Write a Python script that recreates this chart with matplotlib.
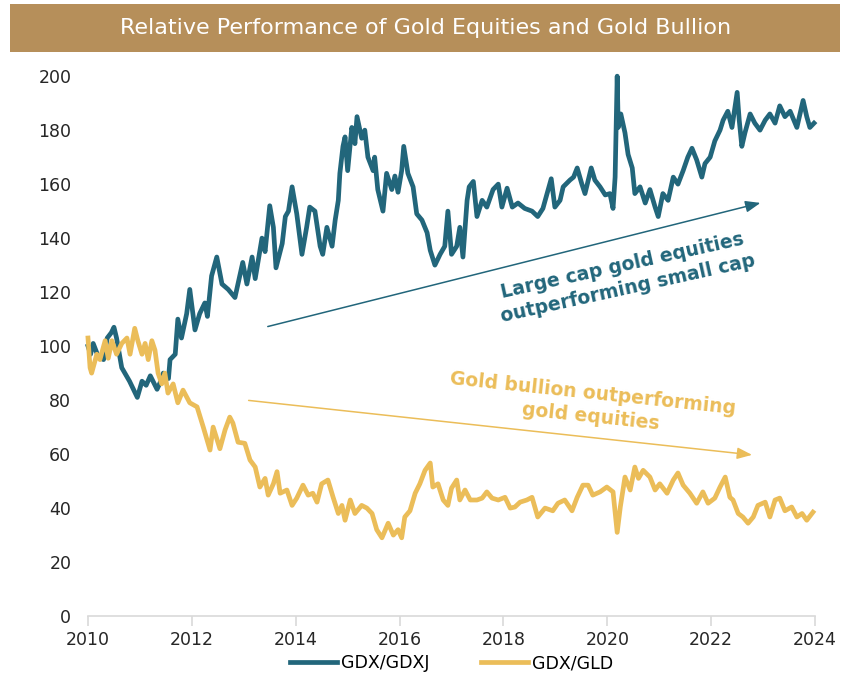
import matplotlib
matplotlib.use("Agg")
import matplotlib.pyplot as plt
from matplotlib.patches import Rectangle

# ---------- data (decimal year, ratio index) ----------
gdxj_dates = [
    2010.00, 2010.05, 2010.10, 2010.20, 2010.30, 2010.37, 2010.45, 2010.50, 2010.55, 2010.65,
    2010.80, 2010.95, 2011.04, 2011.12, 2011.20, 2011.33, 2011.40, 2011.45, 2011.55, 2011.58,
    2011.68, 2011.73, 2011.80, 2011.90, 2011.96, 2012.06, 2012.15, 2012.25, 2012.30, 2012.38,
    2012.48, 2012.58, 2012.70, 2012.83, 2012.98, 2013.06, 2013.16, 2013.22, 2013.35, 2013.41,
    2013.50, 2013.57, 2013.62, 2013.74, 2013.80, 2013.86, 2013.93, 2014.02, 2014.12, 2014.21,
    2014.27, 2014.37, 2014.47, 2014.52, 2014.60, 2014.70, 2014.76, 2014.82, 2014.85, 2014.91,
    2014.95, 2015.00, 2015.08, 2015.14, 2015.18, 2015.27, 2015.33, 2015.39, 2015.49, 2015.52,
    2015.58, 2015.68, 2015.75, 2015.85, 2015.91, 2015.97, 2016.04, 2016.08, 2016.16, 2016.26,
    2016.33, 2016.43, 2016.53, 2016.59, 2016.68, 2016.78, 2016.87, 2016.93, 2017.00, 2017.10,
    2017.16, 2017.22, 2017.30, 2017.34, 2017.42, 2017.49, 2017.59, 2017.68, 2017.80, 2017.90,
    2017.97, 2018.07, 2018.17, 2018.28, 2018.41, 2018.55, 2018.66, 2018.76, 2018.84, 2018.92,
    2018.99, 2019.09, 2019.15, 2019.28, 2019.35, 2019.42, 2019.51, 2019.57, 2019.69, 2019.76,
    2019.86, 2019.96, 2020.05, 2020.11, 2020.15, 2020.19, 2020.21, 2020.26, 2020.34, 2020.40,
    2020.48, 2020.53, 2020.63, 2020.73, 2020.82, 2020.92, 2020.98, 2021.07, 2021.17, 2021.27,
    2021.36, 2021.46, 2021.55, 2021.63, 2021.72, 2021.82, 2021.88, 2021.98, 2022.07, 2022.17,
    2022.23, 2022.32, 2022.40, 2022.50, 2022.54, 2022.59, 2022.65, 2022.75, 2022.84, 2022.94,
    2023.04, 2023.13, 2023.23, 2023.32, 2023.42, 2023.52, 2023.65, 2023.77, 2023.84, 2023.90,
    2023.98,
]
gdxj_vals = [
    100, 97, 101, 96, 95, 103, 105, 107, 103, 92,
    87, 81, 87, 85.5, 89, 84, 87, 90, 88, 95,
    97, 110, 103, 112, 121, 106, 112, 116, 111, 126,
    133, 123, 121, 118, 131, 123, 133, 125, 140, 135,
    152, 144, 129, 138, 148, 150, 159, 149, 134, 144,
    151.5, 150, 137, 134, 144, 137, 146.7, 154, 164, 174,
    177.5, 165, 181, 175, 185, 177, 180, 170, 165, 170,
    158, 150, 164, 158, 163, 157, 165, 174, 164, 159,
    149, 146.7, 142, 135.5, 130, 134, 137, 150, 134, 137,
    144, 133, 154, 159, 161, 148, 154, 151.5, 158, 160,
    151.5, 158.5, 151.5, 153, 151, 150, 148, 151, 156.5, 162,
    151.5, 154, 159, 161.5, 162.6, 166, 160, 156.5, 166, 161.5,
    159, 156, 156.5, 151, 162.6, 200, 181, 186, 179, 171,
    166, 156.5, 159, 153, 158, 151.5, 148, 156.5, 154, 162.6,
    160, 165, 170, 173.3, 169, 162.6, 167.6, 170, 176, 180,
    183.7, 187, 181, 194, 183.7, 174, 179, 186, 182.6, 180,
    183.7, 186, 182.6, 189, 185, 187, 181, 191, 185, 181,
    182.6,
]

gld_dates = [
    2010.00, 2010.04, 2010.07, 2010.17, 2010.23, 2010.33, 2010.39, 2010.46, 2010.55, 2010.65,
    2010.75, 2010.81, 2010.90, 2010.96, 2011.04, 2011.10, 2011.16, 2011.23, 2011.29, 2011.35,
    2011.42, 2011.48, 2011.54, 2011.64, 2011.73, 2011.83, 2011.96, 2012.10, 2012.22, 2012.35,
    2012.41, 2012.54, 2012.64, 2012.73, 2012.79, 2012.89, 2013.02, 2013.12, 2013.22, 2013.31,
    2013.41, 2013.47, 2013.57, 2013.64, 2013.70, 2013.83, 2013.93, 2014.02, 2014.14, 2014.24,
    2014.33, 2014.41, 2014.50, 2014.62, 2014.72, 2014.82, 2014.89, 2014.95, 2015.05, 2015.14,
    2015.27, 2015.37, 2015.47, 2015.56, 2015.66, 2015.78, 2015.88, 2015.97, 2016.04, 2016.10,
    2016.20, 2016.30, 2016.39, 2016.49, 2016.59, 2016.64, 2016.74, 2016.84, 2016.93, 2017.00,
    2017.10, 2017.16, 2017.26, 2017.36, 2017.49, 2017.59, 2017.68, 2017.78, 2017.90, 2018.03,
    2018.13, 2018.22, 2018.32, 2018.45, 2018.55, 2018.66, 2018.80, 2018.95, 2019.05, 2019.18,
    2019.32, 2019.42, 2019.53, 2019.63, 2019.72, 2019.86, 2019.99, 2020.11, 2020.19, 2020.25,
    2020.34, 2020.44, 2020.53, 2020.60, 2020.69, 2020.82, 2020.92, 2021.01, 2021.15, 2021.27,
    2021.36, 2021.46, 2021.59, 2021.72, 2021.84, 2021.94, 2022.07, 2022.17, 2022.27, 2022.36,
    2022.42, 2022.52, 2022.61, 2022.71, 2022.81, 2022.90, 2023.04, 2023.13, 2023.23, 2023.32,
    2023.42, 2023.55, 2023.65, 2023.75, 2023.84, 2023.96,
]
gld_vals = [
    103, 92, 90, 97, 95, 102, 95.5, 102, 97, 101,
    103, 97, 106.6, 102, 97, 101, 95, 102, 98.5, 90,
    86, 90, 82.6, 86, 79, 83.7, 79, 77.5, 70, 61.5,
    70, 62, 69, 73.7, 71.5, 64.4, 64, 57.8, 55.2, 47.8,
    51, 44.8, 49, 53.5, 45.5, 46.7, 41, 43.7, 48.5, 44.8,
    45.5, 42.2, 49, 50.4, 44, 38, 41, 35.5, 43, 38,
    41, 40, 38, 32, 29, 34.4, 30, 32, 29, 36.7,
    39, 45.5, 49, 54, 56.7, 47.8, 49, 43, 41, 47.4,
    50.4, 43, 46.7, 43, 43, 43.7, 46, 43.7, 43, 44,
    40, 40.4, 42.2, 43, 44, 36.7, 40, 39, 41.8, 43,
    39, 44, 48.5, 48.5, 44.8, 46, 47.8, 46, 31, 40.4,
    51.5, 46.7, 55.2, 51, 54, 51.5, 46.7, 49, 45.5, 50.4,
    53, 48.5, 45.5, 41.8, 46, 41.8, 43.7, 47.8, 51.5, 44,
    43, 38, 36.7, 34.4, 36.7, 41, 42.2, 36.7, 43, 43.7,
    39, 40.4, 36.7, 38, 35.5, 38.5,
]

x_ticks = [2010, 2012, 2014, 2016, 2018, 2020, 2022, 2024]
y_ticks = [0, 20, 40, 60, 80, 100, 120, 140, 160, 180, 200]

TITLE = "Relative Performance of Gold Equities and Gold Bullion"
BLUE = "#22667b"
GOLD = "#ebbd59"
BAR = "#b68f5a"
FONT = "DejaVu Sans"

fig = plt.figure(figsize=(8.42, 6.8), dpi=100)
ax = fig.add_axes([0.1045, 0.094, 0.8635, 0.794])

# title banner
fig.patches.append(Rectangle((0.012, 0.924), 0.986, 0.0705, transform=fig.transFigure,
                             facecolor=BAR, edgecolor="none"))
fig.text(0.505, 0.959, TITLE, ha="center", va="center", color="white",
         fontsize=16, family=FONT)

ax.plot(gdxj_dates, gdxj_vals, color=BLUE, lw=3.4, solid_joinstyle="round",
        label="GDX/GDXJ", clip_on=False)
ax.plot(gld_dates, gld_vals, color=GOLD, lw=3.4, solid_joinstyle="round",
        label="GDX/GLD", clip_on=False)

ax.set_xlim(2010, 2024)
ax.set_ylim(0, 200)
ax.set_xticks(x_ticks)
ax.set_yticks(y_ticks)
for s in ["top", "right", "left"]:
    ax.spines[s].set_visible(False)
ax.spines["bottom"].set_color("#d9d9d9")
ax.spines["bottom"].set_linewidth(1.2)
ax.tick_params(axis="y", length=0, pad=12)
ax.tick_params(axis="x", length=7, color="#d9d9d9", width=1.2, pad=4)
for lab in ax.get_xticklabels() + ax.get_yticklabels():
    lab.set_family(FONT)
    lab.set_fontsize(12.5)
    lab.set_color("#262626")

# trend arrows and notes
ax.annotate("", xy=(2023.0, 153.3), xytext=(2013.41, 107),
            arrowprops=dict(arrowstyle="-|>,head_length=0.9,head_width=0.35",
                            color=BLUE, lw=1.1))
ax.annotate("", xy=(2022.84, 59.6), xytext=(2013.04, 80),
            arrowprops=dict(arrowstyle="-|>,head_length=0.9,head_width=0.35",
                            color=GOLD, lw=1.1))
ax.text(2020.34, 125.6, "Large cap gold equities\noutperforming small cap",
        ha="center", va="center", rotation=12.5, color=BLUE, fontsize=13.5,
        fontweight="bold", family=FONT, linespacing=1.3,
        rotation_mode="anchor")
ax.text(2019.7, 78, "Gold bullion outperforming\ngold equities",
        ha="center", va="center", rotation=-6, color=GOLD, fontsize=13.5,
        fontweight="bold", family=FONT, linespacing=1.3,
        rotation_mode="anchor")

ax.legend(loc="center", bbox_to_anchor=(0.5, -0.087), ncol=2,
          frameon=False, handlelength=2.7, columnspacing=3.0,
          handletextpad=0.2, prop={"family": FONT, "size": 12.5})

fig.savefig("out.png", dpi=100)
